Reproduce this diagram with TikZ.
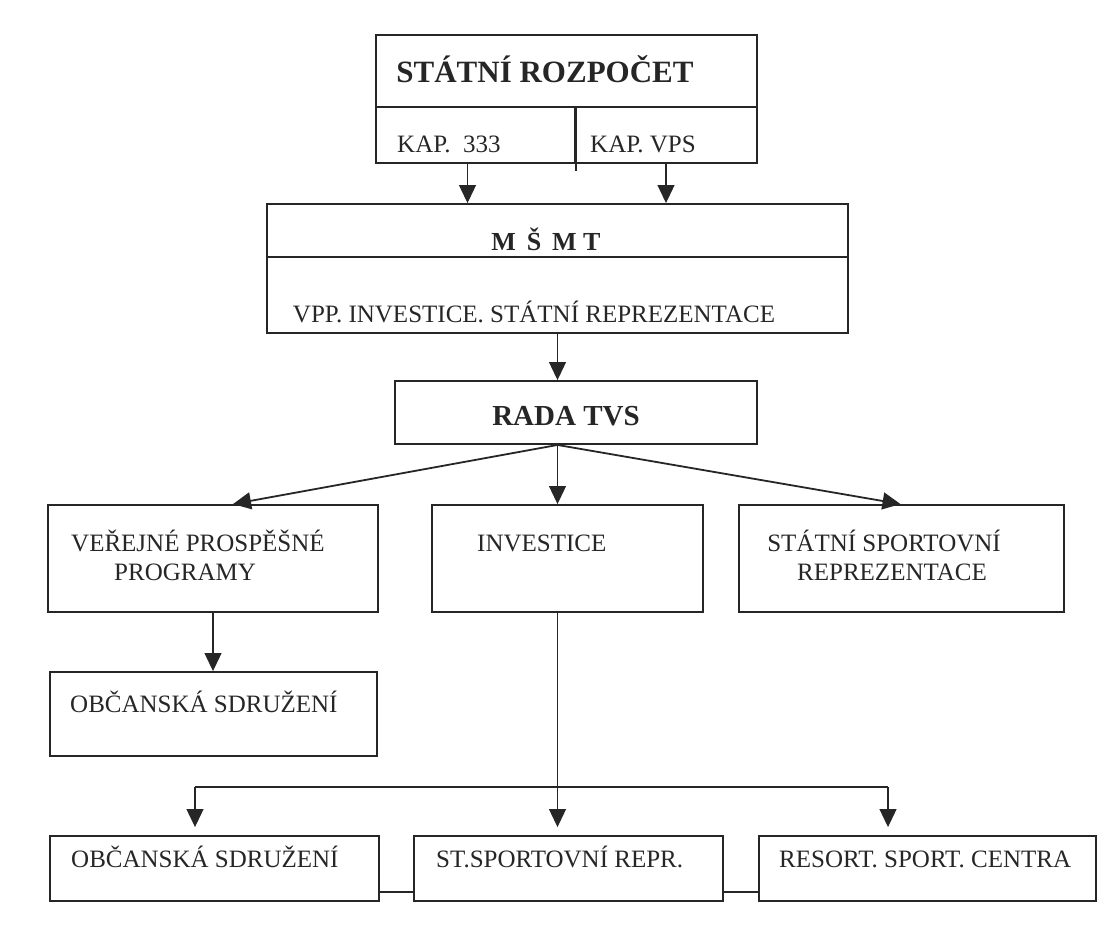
\documentclass[tikz,border=0pt]{standalone}
\usepackage{fontspec}
\setmainfont{Liberation Serif}
\usetikzlibrary{arrows.meta,fit,calc}
\definecolor{ink}{HTML}{262626}
\begin{document}
\begin{tikzpicture}[x=1pt,y=-1pt,
  box/.style={draw=ink, line width=1.9pt, inner sep=0pt},
  txt/.style={inner sep=0pt, text=ink, font=\fontsize{25}{29}\selectfont},
  head/.style={inner sep=0pt, text=ink},
  ln/.style={draw=ink, line width=1.1pt},
  arr/.style={draw=ink, line width=1.1pt, -{Triangle[length=18pt,width=17pt]}},
  farr/.style={draw=ink, line width=1.8pt, -{Triangle[length=18pt,width=17pt]}}]
\path[use as bounding box] (0,0) rectangle (1118,932);

% boxes
\node[box, fit={(376,35) (757,107)}] (sr) {};
\node[box, fit={(376,107) (575,163)}] (kap) {};
\node[box, fit={(575,107) (757,163)}] (vps) {};
\node[box, fit={(267,204) (848,257)}] (msmt) {};
\node[box, fit={(267,257) (848,333)}] (msmtl) {};
\node[box, fit={(395,381) (757,444)}] (rada) {};
\node[box, fit={(48,505) (378,612)}] (vpp) {};
\node[box, fit={(432,505) (703,612)}] (inv) {};
\node[box, fit={(739,505) (1064,612)}] (ssr) {};
\node[box, fit={(50,672) (377,756)}] (obc1) {};
\node[box, fit={(50,836) (379,901)}] (obc2) {};
\node[box, fit={(414,836) (723,901)}] (stsp) {};
\node[box, fit={(759,836) (1096,901)}] (resort) {};

% divider extension in top box
\draw[box] (kap.north east) -- ([yshift=-7pt]kap.south east);

% texts
\node[head, anchor=base, font=\bfseries\fontsize{31}{36}\selectfont] (tsr) at (545,82) {STÁTNÍ ROZPOČET};
\node[txt, anchor=base west] (tkap) at (397,152) {KAP.\ \ 333};
\node[txt, anchor=base west] (tvps) at (590,152) {KAP. VPS};
\node[head, anchor=base, font=\bfseries\fontsize{26}{30}\selectfont] (tmsmt) at (546,250) {M\,\ Š\,\ M\ T};
\node[txt, anchor=base] (tvppl) at (534,322) {VPP. INVESTICE. STÁTNÍ REPREZENTACE};
\node[head, anchor=base, font=\bfseries\fontsize{29}{34}\selectfont] (trada) at (566,425) {RADA TVS};
\node[txt, anchor=base west] (tvpp1) at (71,551) {VEŘEJNÉ PROSPĚŠNÉ};
\node[txt, anchor=base west] (tvpp2) at (114,580) {PROGRAMY};
\node[txt, anchor=base west] (tinv) at (477,551) {INVESTICE};
\node[txt, anchor=base] (tssr1) at (884,551) {STÁTNÍ SPORTOVNÍ};
\node[txt, anchor=base] (tssr2) at (892,580) {REPREZENTACE};
\node[txt, anchor=base west] (tobc1) at (70,712) {OBČANSKÁ SDRUŽENÍ};
\node[txt, anchor=base west] (tobc2) at (71,867) {OBČANSKÁ SDRUŽENÍ};
\node[txt, anchor=base west] (tstsp) at (436,867) {ST.SPORTOVNÍ REPR.};
\node[txt, anchor=base west] (tres) at (779,867) {RESORT. SPORT. CENTRA};

% connectors
\draw[arr] ([xshift=-8pt]kap.south) -- ([xshift=-8pt]kap.south |- msmt.north);
\draw[arr] (vps.south) -- (vps.south |- msmt.north);
\draw[arr] (msmtl.south) -- (msmtl.south |- rada.north);

\coordinate (fan) at (msmtl.south |- rada.south);
\draw[farr] (fan) -- ([xshift=20pt]vpp.north);
\draw[arr] (fan) -- (fan |- inv.north);
\draw[farr] (fan) -- ([xshift=-1pt]ssr.north);

\draw[arr] (vpp.south) -- (vpp.south |- obc1.north);

\coordinate (barL) at (195,787);
\coordinate (barR) at (888,787);
\draw[arr, shorten >=8pt] (fan |- inv.south) -- (fan |- stsp.north);
\draw[ln, line width=1.6pt] (barL) -- (barR);
\draw[arr, shorten >=8pt] (barL) -- (barL |- obc2.north);
\draw[arr, shorten >=8pt] (barR) -- (barR |- resort.north);

\draw[ln, line width=1.6pt] ([yshift=10pt]obc2.south east) -- ([yshift=10pt]stsp.south west);
\draw[ln, line width=1.6pt] ([yshift=10pt]stsp.south east) -- ([yshift=10pt]resort.south west);
\end{tikzpicture}
\end{document}
